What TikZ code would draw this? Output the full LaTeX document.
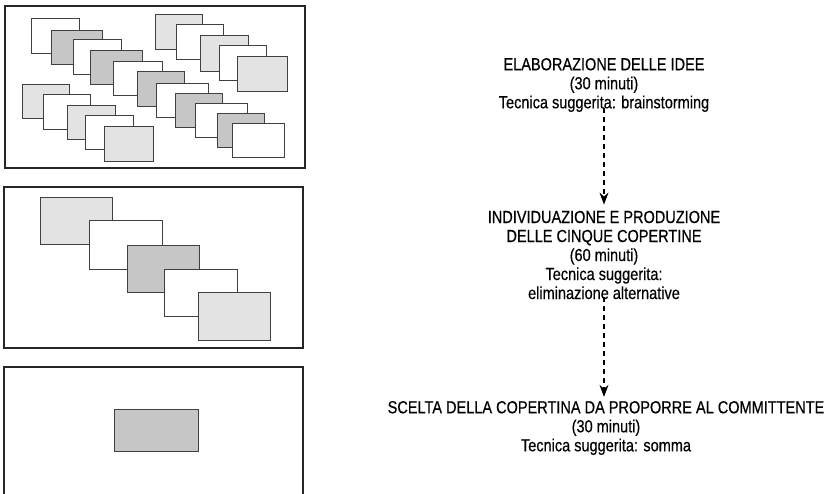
\documentclass[tikz,border=0pt]{standalone}
\usepackage{fontspec}
\newfontfamily\condfont{Liberation Sans}[FakeStretch=0.83, FakeBold=0.4]
\usepackage{tikz}
\usetikzlibrary{positioning, arrows.meta}

\definecolor{cardlight}{HTML}{E3E3E3}
\definecolor{carddark}{HTML}{C6C6C6}

\begin{document}
\begin{tikzpicture}[
  x=1pt, y=-1pt,
  panel/.style={draw=black!85, line width=1.1pt},
  card/.style={draw=black!75, line width=0.9pt},
  light/.style={card, fill=cardlight},
  dark/.style={card, fill=carddark},
  blank/.style={card, fill=white},
  phase/.style={align=center, inner sep=0pt, font=\condfont\fontsize{17.5}{19}\selectfont},
  flow/.style={-{Stealth[length=12pt, width=9pt]}, dashed, dash pattern=on 5pt off 4pt, line width=1.1pt}
]
\useasboundingbox (0,0) rectangle (840,494);
\clip (0,0) rectangle (840,494);

% ===== PANEL 1: many ideas =====
\draw[panel, fill=white] (5,6) rectangle (305,168);

% Diagonal row across the middle
\draw[blank] (31,18) rectangle (79,53);
\draw[dark]  (51,30) rectangle (102,64);
\draw[blank] (73,39) rectangle (121,74);
\draw[dark]  (90,50) rectangle (142,84);
\draw[blank] (113,61) rectangle (162,95);
\draw[dark]  (137,71) rectangle (184,106);
\draw[blank] (156,83) rectangle (208,117);
\draw[dark]  (175,93) rectangle (222,127);
\draw[blank] (195,103) rectangle (247,137);
\draw[dark]  (217,113) rectangle (264,147);
\draw[blank] (232,123) rectangle (284,157);

% Upper right row
\draw[light] (155,14) rectangle (202,49);
\draw[blank] (176,24) rectangle (223,59);
\draw[light] (200,35) rectangle (248,71);
\draw[blank] (219,45) rectangle (266,80);
\draw[light] (237,56) rectangle (287,91);

% Lower left row
\draw[light] (22,84) rectangle (69,118);
\draw[blank] (43,94) rectangle (90,129);
\draw[light] (67,105) rectangle (115,139);
\draw[blank] (85,115) rectangle (133,149);
\draw[light] (104,126) rectangle (153,161);

% ===== PANEL 2: five covers =====
\draw[panel, fill=white] (4,187) rectangle (303,348);
\draw[light] (40,197) rectangle (112,244);
\draw[blank] (89,220) rectangle (162,269);
\draw[dark]  (127,245) rectangle (199,292);
\draw[blank] (164,269) rectangle (237,316);
\draw[light] (198,292) rectangle (270,340);

% ===== PANEL 3: the chosen cover =====
\draw[panel, fill=white] (4,367) rectangle (303,520);
\draw[dark] (114,409) rectangle (198,451);

% ===== Phases =====
\node[phase] (idee) at (604,85) {ELABORAZIONE DELLE IDEE\\(30 minuti)\\Tecnica suggerita: brainstorming};
\node[phase] (copertine) at (604,255) {INDIVIDUAZIONE E PRODUZIONE\\DELLE CINQUE COPERTINE\\(60 minuti)\\Tecnica suggerita:\\eliminazione alternative};
\node[phase] (scelta) at (606,428) {SCELTA DELLA COPERTINA DA PROPORRE AL COMMITTENTE\\(30 minuti)\\Tecnica suggerita: somma};

% Arrows
\draw[flow, shorten <=-4pt, shorten >=6pt] (idee.south) -- (copertine.north);
\draw[flow, shorten <=-2pt, shorten >=4pt] (copertine.south) -- (copertine.south |- scelta.north);

\end{tikzpicture}
\end{document}
